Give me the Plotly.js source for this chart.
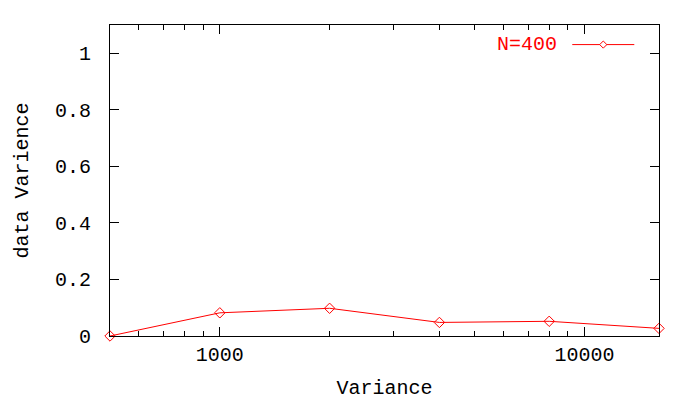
<!DOCTYPE html>
<html>
<head>
<meta charset="utf-8">
<script src="https://cdn.plot.ly/plotly-3.0.1.min.js"></script>
<style>html,body{margin:0;padding:0;background:#fff;}#chart{width:696px;height:400px;}</style>
</head>
<body>
<div id="chart"></div>
<script>
const variance = [500, 1000, 2000, 4000, 8000, 16000];
const dataVariance = [0.0, 0.082, 0.098, 0.048, 0.052, 0.027];
const seriesName = 'N=400';
const xMajorTicks = [1000, 10000];
const xMajorLabels = ['1000', '10000'];
const xMinorTicks = [600, 700, 800, 900, 2000, 3000, 4000, 5000, 6000, 7000, 8000, 9000];
const yTicks = [0, 0.2, 0.4, 0.6, 0.8, 1];
const yLabels = ['0', '0.2', '0.4', '0.6', '0.8', '1'];

const FONT = 'Liberation Mono, DejaVu Sans Mono, monospace';
const FS = 20;
const RED = '#ff0000';

const trace = {
  x: variance, y: dataVariance, name: seriesName,
  type: 'scatter', mode: 'lines+markers',
  line: {color: RED, width: 1},
  marker: {symbol: 'diamond-open', size: 8, color: RED, line: {width: 1, color: RED}},
  cliponaxis: false, showlegend: false
};

const lx0 = 0.842, lx1 = 0.955, ly = 0.937;
const lm = (lx0 + lx1) / 2;
const layout = {
  width: 696, height: 400,
  margin: {l: 110, r: 37, t: 25, b: 64},
  paper_bgcolor: '#fff', plot_bgcolor: '#fff',
  font: {family: FONT, size: FS, color: '#000'},
  showlegend: false,
  xaxis: {
    type: 'log', range: [Math.log10(500) - 1e-6, Math.log10(16000) + 1e-6],
    tickmode: 'array', tickvals: xMajorTicks, ticktext: xMajorLabels,
    ticks: 'inside', ticklen: 9, tickwidth: 1, tickcolor: '#000',
    minor: {tickmode: 'array', tickvals: xMinorTicks, ticks: 'inside', ticklen: 5, tickwidth: 1, tickcolor: '#000', showgrid: false},
    showline: true, linecolor: '#000', linewidth: 1, mirror: 'ticks',
    showgrid: false, zeroline: false, ticklabelstandoff: 0,
    title: {text: 'Variance', font: {family: FONT, size: FS, color: '#000'}, standoff: 18}
  },
  yaxis: {
    range: [-1e-6, 1.1],
    tickmode: 'array', tickvals: yTicks, ticktext: yLabels,
    ticks: 'inside', ticklen: 9, tickwidth: 1, tickcolor: '#000',
    showline: true, linecolor: '#000', linewidth: 1, mirror: 'ticks',
    showgrid: false, zeroline: false, ticklabelstandoff: 14,
    title: {text: 'data Varience', font: {family: FONT, size: FS, color: '#000'}, standoff: 20}
  },
  annotations: [{
    xref: 'paper', yref: 'paper', x: lx0 - 0.025, y: ly, xanchor: 'right', yanchor: 'middle',
    text: seriesName, showarrow: false, font: {family: FONT, size: FS, color: RED}
  }],
  shapes: [
    {type: 'line', xref: 'paper', yref: 'paper', x0: lx0, x1: lx1, y0: ly, y1: ly, line: {color: RED, width: 1}},
    {type: 'path', xref: 'paper', yref: 'paper',
     path: `M ${lm - 0.0065} ${ly} L ${lm} ${ly + 0.0115} L ${lm + 0.0065} ${ly} L ${lm} ${ly - 0.0115} Z`,
     line: {color: RED, width: 1}, fillcolor: '#fff'}
  ]
};

Plotly.newPlot('chart', [trace], layout, {displayModeBar: false, staticPlot: true});
</script>
</body>
</html>
